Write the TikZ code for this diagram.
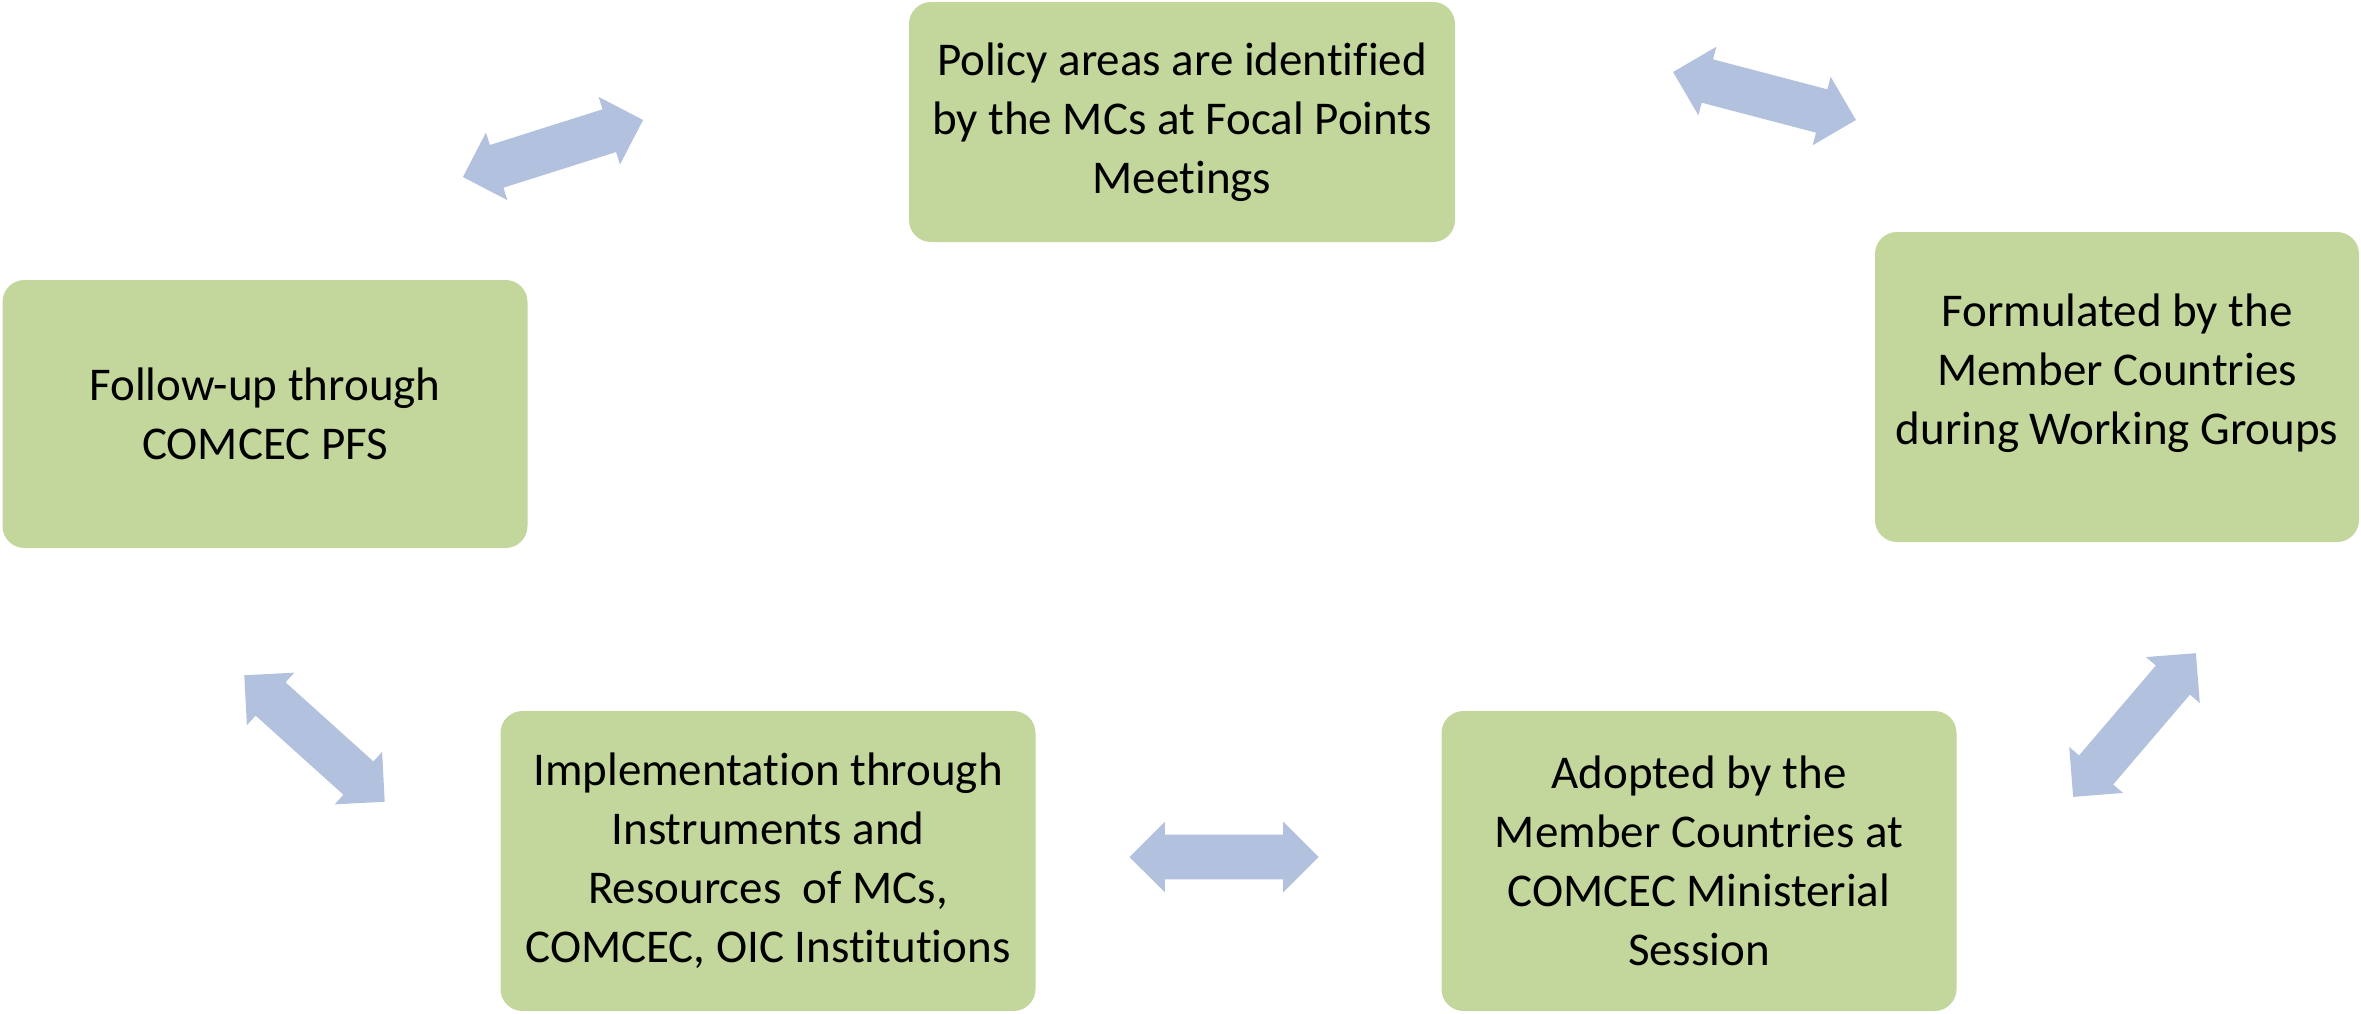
\documentclass[tikz,border=0pt]{standalone}
\usepackage{fontspec}
\setmainfont{Carlito}[Ligatures=NoCommon]
\usetikzlibrary{shapes.arrows}

\definecolor{boxgreen}{HTML}{C3D69B}
\definecolor{arrowblue}{HTML}{B2C1DD}

\begin{document}
\begin{tikzpicture}[x=0.5pt,y=-0.5pt,
    stepbox/.style={fill=boxgreen, rounded corners=11pt, align=center, inner sep=0pt,
      font=\fontsize{23.5}{29.5}\selectfont},
    dblarrow/.style={double arrow, fill=arrowblue, draw=none, inner xsep=0pt, inner ysep=11pt,
      minimum height=94.5pt, minimum width=35pt, double arrow head extend=6.5pt, sloped}]
        \useasboundingbox (0,0) rectangle (2361,1013);
        % the five boxes
        \node[stepbox, minimum width=273pt, minimum height=120pt] (pol) at (1182,122)
            {Policy areas are identified\\by the MCs at Focal Points\\Meetings};
        \node[stepbox, minimum width=242pt, minimum height=155pt, text depth=18pt] (form) at (2117,387)
            {Formulated by the\\Member Countries\\during Working Groups};
        \node[stepbox, minimum width=257.5pt, minimum height=150pt] (adop) at (1699,861)
            {Adopted by the\\Member Countries at\\COMCEC Ministerial\\Session};
        \node[stepbox, minimum width=267.5pt, minimum height=150pt] (impl) at (768,861)
            {Implementation through\\Instruments and\\Resources~ of MCs,\\COMCEC, OIC Institutions};
        \node[stepbox, minimum width=262.5pt, minimum height=134pt] (foll) at (265,414)
            {Follow-up through\\COMCEC PFS};
        % arrow ends
        \coordinate (a1s) at (463,177);   \coordinate (a1e) at (643,120);
        \coordinate (a2s) at (1673,72);   \coordinate (a2e) at (1856,120);
        \coordinate (a3s) at (2073,797);  \coordinate (a3e) at (2196,653);
        \coordinate (a4s) at (1130,857);  \coordinate (a4e) at (1318,857);
        \coordinate (a5s) at (244,675);   \coordinate (a5e) at (385,802);
        % double arrows
        \path (a1s) -- node[dblarrow] (arr1) {} (a1e);
        \path (a2s) -- node[dblarrow] (arr2) {} (a2e);
        \path (a3s) -- node[dblarrow] (arr3) {} (a3e);
        \path (a4s) -- node[dblarrow] (arr4) {} (a4e);
        \path (a5s) -- node[dblarrow] (arr5) {} (a5e);
\end{tikzpicture}
\end{document}
